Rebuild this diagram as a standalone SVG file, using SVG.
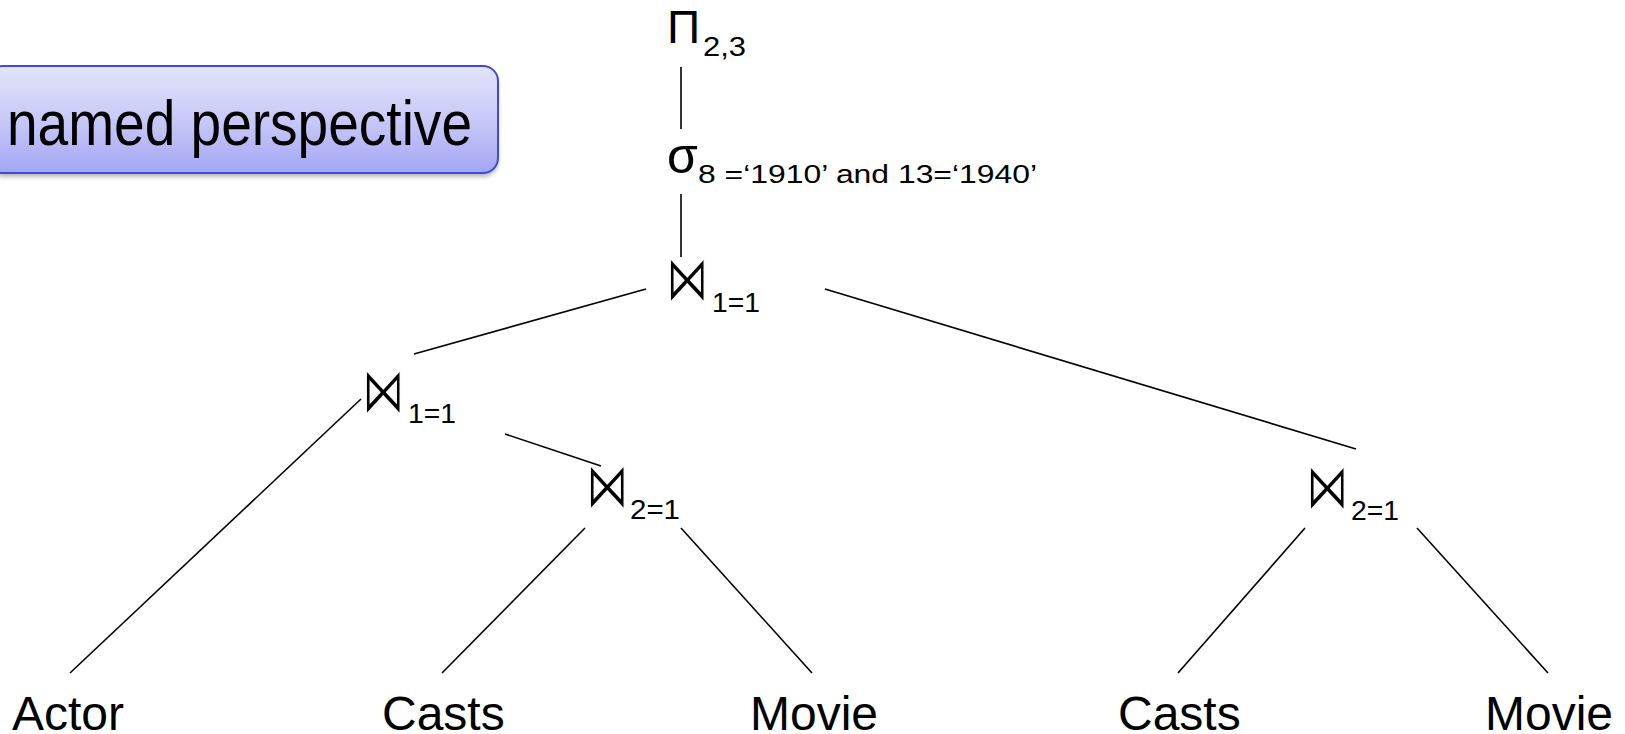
<svg xmlns="http://www.w3.org/2000/svg" width="1625" height="734" viewBox="0 0 1625 734">
  <defs>
    <linearGradient id="boxFill" x1="0" y1="0" x2="0" y2="1">
      <stop offset="0" stop-color="#E4E4FB"/>
      <stop offset="0.5" stop-color="#C8C9F8"/>
      <stop offset="1" stop-color="#A3A6F4"/>
    </linearGradient>
    <filter id="shadow" x="-5%" y="-10%" width="110%" height="130%">
      <feGaussianBlur stdDeviation="2"/>
    </filter>
  </defs>
  <style>
    .lbl { font-family: "Liberation Sans", Arial, sans-serif; fill: #000; }
    .rel { font-size: 48px; }
    .sub { font-size: 27px; }
    .join { font-family: "DejaVu Sans", sans-serif; font-size: 34px; fill: #000; stroke: #fff; stroke-width: 0.7px; }
    .edge { stroke: #000; stroke-width: 1.6; fill: none; }
  </style>

  <g id="label-box">
    <rect x="-12" y="70" width="510" height="107" rx="15" fill="#888" opacity="0.6" filter="url(#shadow)"/>
    <rect x="-12" y="66" width="510" height="107" rx="15" fill="url(#boxFill)" stroke="#3F4BD6" stroke-width="2"/>
    <text class="lbl" transform="translate(7,145) scale(1,1.13)" font-size="55" textLength="465" lengthAdjust="spacingAndGlyphs">named perspective</text>
  </g>

  <g id="connectors">
    <line class="edge" x1="681" y1="67" x2="681" y2="129"/>
    <line class="edge" x1="681" y1="194" x2="681" y2="257"/>
    <line class="edge" x1="646" y1="289" x2="414" y2="354"/>
    <line class="edge" x1="825" y1="289" x2="1356" y2="449"/>
    <line class="edge" x1="361" y1="399" x2="70" y2="673"/>
    <line class="edge" x1="505" y1="434" x2="601" y2="466"/>
    <line class="edge" x1="585" y1="528" x2="442" y2="673"/>
    <line class="edge" x1="681" y1="528" x2="812" y2="673"/>
    <line class="edge" x1="1305" y1="528" x2="1178" y2="673"/>
    <line class="edge" x1="1417" y1="528" x2="1548" y2="673"/>
  </g>

  <g id="project">
    <text class="lbl" x="667" y="43" font-size="46">Π</text>
    <text class="lbl sub" x="703" y="56" textLength="43" lengthAdjust="spacingAndGlyphs">2,3</text>
  </g>

  <g id="select">
    <text class="lbl" x="667" y="173" font-size="50">σ</text>
    <text class="lbl" x="698" y="183" font-size="25" textLength="339" lengthAdjust="spacingAndGlyphs">8 =‘1910’ and 13=‘1940’</text>
  </g>

  <g id="join-top">
    <text class="join" transform="translate(666,300) scale(1.25,1.85)">⋈</text>
    <text class="lbl sub" x="712" y="312" textLength="48" lengthAdjust="spacingAndGlyphs">1=1</text>
  </g>

  <g id="join-left">
    <text class="join" transform="translate(362,412) scale(1.25,1.85)">⋈</text>
    <text class="lbl sub" x="408" y="423" textLength="48" lengthAdjust="spacingAndGlyphs">1=1</text>
  </g>

  <g id="join-mid">
    <text class="join" transform="translate(586,507) scale(1.25,1.85)">⋈</text>
    <text class="lbl sub" x="630" y="519" textLength="50" lengthAdjust="spacingAndGlyphs">2=1</text>
  </g>

  <g id="join-right">
    <text class="join" transform="translate(1306,508) scale(1.25,1.85)">⋈</text>
    <text class="lbl sub" x="1351" y="520" textLength="48" lengthAdjust="spacingAndGlyphs">2=1</text>
  </g>

  <g id="actor"><text class="lbl rel" x="12" y="730">Actor</text></g>
  <g id="casts1"><text class="lbl rel" x="382" y="730">Casts</text></g>
  <g id="movie1"><text class="lbl rel" x="750" y="730">Movie</text></g>
  <g id="casts2"><text class="lbl rel" x="1118" y="730">Casts</text></g>
  <g id="movie2"><text class="lbl rel" x="1485" y="730">Movie</text></g>
</svg>
